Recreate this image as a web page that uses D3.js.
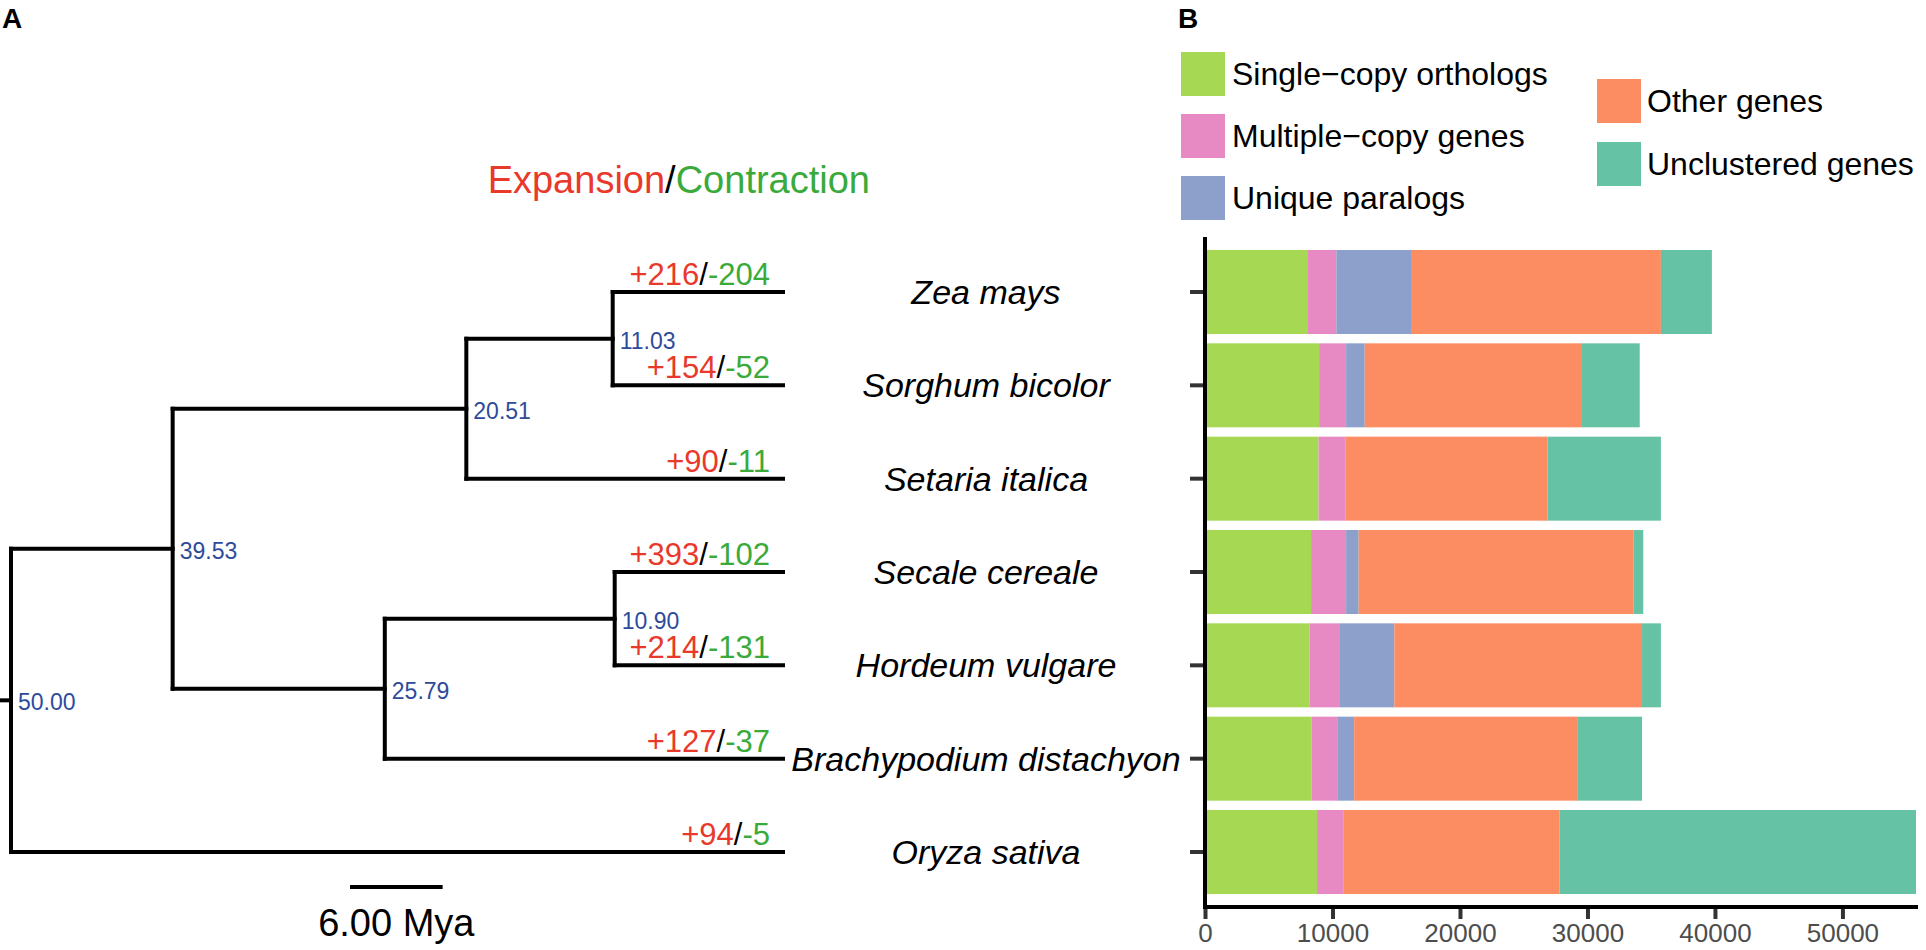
<!DOCTYPE html>
<html>
<head>
<meta charset="utf-8">
<script src="https://cdn.jsdelivr.net/npm/d3@7"></script>
<style>
  body { margin: 0; background: #fff; }
  text { font-family: "Liberation Sans", Arial, sans-serif; }
</style>
</head>
<body>
<svg width="1926" height="950"></svg>
<script>
// tree (ages in Mya at internal nodes)
var newick = "((((Zea mays,Sorghum bicolor)11.03,Setaria italica)20.51,((Secale cereale,Hordeum vulgare)10.90,Brachypodium distachyon)25.79)39.53,Oryza sativa)50.00;"

var species = ["Zea mays", "Sorghum bicolor", "Setaria italica", "Secale cereale",
               "Hordeum vulgare", "Brachypodium distachyon", "Oryza sativa"]
var expansion   = [216, 154, 90, 393, 214, 127, 94]
var contraction = [204, 52, 11, 102, 131, 37, 5]

// gene counts per species (same order as species)
var singleCopy   = [8080, 8950, 8910, 8320, 8190, 8350, 8790]
var multipleCopy = [2220, 2120, 2130, 2750, 2400, 2020, 2050]
var uniqueParal  = [5860, 1460, 0, 980, 4260, 1330, 0]
var otherGenes   = [19600, 16970, 15830, 21550, 19430, 17550, 16960]
var unclustered  = [4000, 4600, 8890, 780, 1480, 5030, 27970]

var seriesNames = ["Single\u2212copy orthologs", "Multiple\u2212copy genes", "Unique paralogs",
                   "Other genes", "Unclustered genes"]
var seriesColors = ["#a6d854", "#e78ac3", "#8da0cb", "#fc8d62", "#66c2a5"]
var xTicks = [0, 10000, 20000, 30000, 40000, 50000]

var svg = d3.select("svg")

// --- tiny newick reader
function parseNewick(s) {
    var i = 0
    function node() {
        var n = {}
        if (s[i] == "(") {
            n.children = []
            i++
            n.children.push(node())
            while (s[i] == ",") { i++; n.children.push(node()) }
            i++ // ')'
        }
        var j = i
        while (i < s.length && ",();".indexOf(s[i]) < 0) i++
        var label = s.slice(j, i)
        if (n.children) n.age = +label
        else { n.name = label; n.age = 0 }
        return n
    }
    return node()
}

var root = d3.hierarchy(parseNewick(newick))

var xAge = d3.scaleLinear().domain([50, 0]).range([11, 783])
var yTip = d3.scalePoint().domain(species).range([292, 852])

root.eachAfter(function(d) {
    d.px = xAge(d.data.age)
    if (d.children) d.py = d3.mean(d.children, function(c) { return c.py })
    else d.py = yTip(d.data.name)
})

var red = "#e8392b", green = "#3aaa3a", blue = "#2e4b9b"

var tree = svg.append("g")
    .attr("fill", "none").attr("stroke", "#000").attr("stroke-width", 4)
    .attr("stroke-linecap", "square")

root.descendants().forEach(function(d) {
    if (d.children) {
	tree.append("line")
	    .attr("x1", d.px).attr("y1", d.children[0].py)
	    .attr("x2", d.px).attr("y2", d.children[d.children.length - 1].py)
	d.children.forEach(function(c) {
	    tree.append("line")
		.attr("x1", d.px).attr("y1", c.py)
		.attr("x2", c.px).attr("y2", c.py)
	})
    }
})
// root stub
tree.append("line").attr("x1", 1).attr("y1", root.py).attr("x2", root.px).attr("y2", root.py)

// node ages
root.descendants().filter(function(d) { return d.children }).forEach(function(d) {
    svg.append("text")
	.attr("x", d.px + 7).attr("y", d.py + 10)
	.attr("font-size", 23).attr("fill", blue)
	.text(d.data.age.toFixed(2))
})

// expansion / contraction on tips
species.forEach(function(s, i) {
    var t = svg.append("text")
	.attr("x", 770).attr("y", yTip(s) - 7)
	.attr("text-anchor", "end").attr("font-size", 31)
    t.append("tspan").attr("fill", red).text("+" + expansion[i])
    t.append("tspan").attr("fill", "#000").text("/")
    t.append("tspan").attr("fill", green).text("-" + contraction[i])

    svg.append("text")
	.attr("x", 986).attr("y", yTip(s))
	.attr("dy", "0.35em")
	.attr("text-anchor", "middle").attr("font-size", 34)
	.attr("font-style", "italic")
	.text(s)
})

var title = svg.append("text").attr("x", 870).attr("y", 193)
    .attr("text-anchor", "end").attr("font-size", 38)
title.append("tspan").attr("fill", red).text("Expansion")
title.append("tspan").attr("fill", "#000").text("/")
title.append("tspan").attr("fill", green).text("Contraction")

// scale bar
var barX0 = 350
svg.append("line")
    .attr("x1", barX0).attr("x2", barX0 + (xAge(0) - xAge(6)))
    .attr("y1", 887).attr("y2", 887)
    .attr("stroke", "#000").attr("stroke-width", 4)
svg.append("text")
    .attr("x", barX0 + (xAge(0) - xAge(6)) / 2).attr("y", 936)
    .attr("text-anchor", "middle").attr("font-size", 38)
    .text("6.00 Mya")

// panel letters
svg.append("text").attr("x", 2).attr("y", 28).attr("font-size", 28)
    .attr("font-weight", "bold").text("A")
svg.append("text").attr("x", 1178).attr("y", 28).attr("font-size", 28)
    .attr("font-weight", "bold").text("B")

// --- stacked bars
var table = species.map(function(s, i) {
    return {species: s, s0: singleCopy[i], s1: multipleCopy[i], s2: uniqueParal[i],
	    s3: otherGenes[i], s4: unclustered[i]}
})
var keys = ["s0", "s1", "s2", "s3", "s4"]
var stack = d3.stack().keys(keys)(table)

var xBar = d3.scaleLinear().domain([0, 55770]).range([1205, 1916])
var yBar = d3.scaleBand().domain(species).range([245.33, 898.67])
    .paddingInner(0.1).paddingOuter(0.05)

svg.append("g").selectAll("g")
    .data(stack).join("g")
    .attr("fill", function(d, i) { return seriesColors[i] })
    .selectAll("rect")
    .data(function(d) { return d }).join("rect")
    .attr("x", function(d) { return xBar(d[0]) })
    .attr("width", function(d) { return xBar(d[1]) - xBar(d[0]) })
    .attr("y", function(d) { return yBar(d.data.species) })
    .attr("height", yBar.bandwidth())

var gy = svg.append("g").attr("transform", "translate(1205,0)")
    .call(d3.axisLeft(yBar).tickSize(15).tickFormat(""))
gy.select(".domain").remove()
gy.selectAll(".tick line").attr("stroke", "#333").attr("stroke-width", 4)

var gx = svg.append("g").attr("transform", "translate(0,907)")
    .call(d3.axisBottom(xBar).tickValues(xTicks).tickSize(12).tickFormat(d3.format("d")))
gx.select(".domain").remove()
gx.selectAll(".tick line").attr("stroke", "#333").attr("stroke-width", 4)
gx.selectAll(".tick text").attr("font-size", 26).attr("fill", "#4d4d4d")
    .attr("font-family", "Liberation Sans, Arial, sans-serif")
    .attr("y", 17).attr("dy", "0.71em")

svg.append("line").attr("x1", 1205).attr("x2", 1205).attr("y1", 237).attr("y2", 909)
    .attr("stroke", "#000").attr("stroke-width", 4)
svg.append("line").attr("x1", 1203).attr("x2", 1918).attr("y1", 907).attr("y2", 907)
    .attr("stroke", "#000").attr("stroke-width", 4)

// legend
var legLeft = [0, 1, 2], legRight = [3, 4]
legLeft.forEach(function(k, i) {
    var y = 52 + i * 62
    svg.append("rect").attr("x", 1181).attr("y", y).attr("width", 44).attr("height", 44)
	.attr("fill", seriesColors[k])
    svg.append("text").attr("x", 1232).attr("y", y + 22).attr("dy", "0.35em")
	.attr("font-size", 32).text(seriesNames[k])
})
legRight.forEach(function(k, i) {
    var y = 79 + i * 63
    svg.append("rect").attr("x", 1597).attr("y", y).attr("width", 44).attr("height", 44)
	.attr("fill", seriesColors[k])
    svg.append("text").attr("x", 1647).attr("y", y + 22).attr("dy", "0.35em")
	.attr("font-size", 32).text(seriesNames[k])
})
</script>
</body>
</html>
